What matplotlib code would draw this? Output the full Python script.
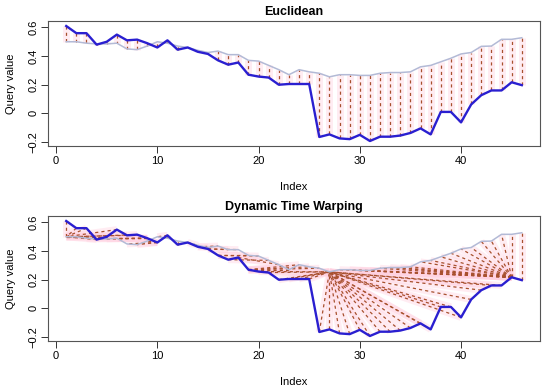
import numpy as np
import matplotlib.pyplot as plt

plt.rcParams['font.family'] = ['Liberation Sans', 'DejaVu Sans']

# query (dark blue) and reference (light) series
query = [0.61, 0.56, 0.56, 0.48, 0.50, 0.55, 0.51, 0.515, 0.49, 0.46,
         0.51, 0.445, 0.46, 0.43, 0.415, 0.37, 0.34, 0.355, 0.27, 0.257,
         0.25, 0.20, 0.205, 0.205, 0.205, -0.165, -0.147, -0.175, -0.18, -0.15,
         -0.193, -0.163, -0.163, -0.155, -0.137, -0.105, -0.147, 0.01, 0.01, -0.063,
         0.062, 0.127, 0.16, 0.16, 0.217, 0.197]
reference = [0.50, 0.50, 0.49, 0.485, 0.485, 0.49, 0.45, 0.445, 0.47, 0.50,
             0.49, 0.47, 0.46, 0.44, 0.425, 0.435, 0.41, 0.41, 0.37, 0.365,
             0.335, 0.305, 0.27, 0.305, 0.29, 0.28, 0.255, 0.27, 0.27, 0.265,
             0.265, 0.28, 0.285, 0.285, 0.29, 0.325, 0.335, 0.36, 0.385, 0.415,
             0.425, 0.468, 0.47, 0.517, 0.517, 0.528]

q = np.array(query)
r = np.array(reference)
idx = np.arange(1, len(q) + 1)


def dtw_path(a, b):
    # symmetric2 step pattern, absolute distance
    n, m = len(a), len(b)
    d = np.abs(a[:, None] - b[None, :])
    D = np.full((n, m), np.inf)
    D[0, 0] = d[0, 0]
    for i in range(n):
        for j in range(m):
            if i == 0 and j == 0:
                continue
            c = []
            if i > 0 and j > 0:
                c.append(D[i-1, j-1] + 2 * d[i, j])
            if i > 0:
                c.append(D[i-1, j] + d[i, j])
            if j > 0:
                c.append(D[i, j-1] + d[i, j])
            D[i, j] = min(c)
    i, j = n - 1, m - 1
    path = [(i, j)]
    while i > 0 or j > 0:
        opts = []
        if i > 0 and j > 0:
            opts.append((D[i-1, j-1], i-1, j-1))
        if i > 0:
            opts.append((D[i-1, j], i-1, j))
        if j > 0:
            opts.append((D[i, j-1], i, j-1))
        _, i, j = min(opts)
        path.append((i, j))
    return path[::-1]


line_col = '#a8502e'
halo_col = '#ffd0e0'

fig = plt.figure(figsize=(5.5, 3.91), dpi=100)
ax1 = fig.add_axes([48/550, 1-146/391, 492/550, 125/391])
ax2 = fig.add_axes([48/550, 1-341/391, 492/550, 125/391])


def style(ax, title):
    ax.set_xlim(-0.8, 47.8)
    ax.set_ylim(-0.228, 0.645)
    ax.set_xticks([0, 10, 20, 30, 40])
    ax.set_yticks([-0.2, 0, 0.2, 0.4, 0.6])
    ax.set_yticklabels(['\u22120.2', '0', '0.2', '0.4', '0.6'], rotation=90, va='center')
    ax.tick_params(length=5, width=0.7, labelsize=8, pad=2, color='#333333')
    for s in ax.spines.values():
        s.set_color('#555555')
        s.set_linewidth(0.8)
    ax.set_title(title, fontsize=9, fontweight='bold', pad=4)
    ax.set_xlabel('Index', fontsize=8, labelpad=12)
    ax.set_ylabel('Query value', fontsize=8, labelpad=9)


def draw_match(ax, x0, y0, x1, y1):
    ax.plot([x0, x1], [y0, y1], color=halo_col, lw=5, alpha=0.4,
            solid_capstyle='butt', zorder=1)
    ax.plot([x0, x1], [y0, y1], color=line_col, lw=0.9,
            dashes=(2.5, 2.5), zorder=2)


# Euclidean: point-to-point matches
for i in range(len(q)):
    draw_match(ax1, idx[i], q[i], idx[i], r[i])
ax1.plot(idx, r, color='#b3bad6', lw=1.1, zorder=3)
ax1.plot(idx, q, color='#2a1fd0', lw=1.7, zorder=4)
style(ax1, 'Euclidean')

# Dynamic Time Warping matches
for i, j in dtw_path(q, r):
    draw_match(ax2, idx[i], q[i], idx[j], r[j])
ax2.plot(idx, r, color='#b3bad6', lw=1.1, zorder=3)
ax2.plot(idx, q, color='#2a1fd0', lw=1.7, zorder=4)
style(ax2, 'Dynamic Time Warping')

fig.savefig('out.png', dpi=100)
